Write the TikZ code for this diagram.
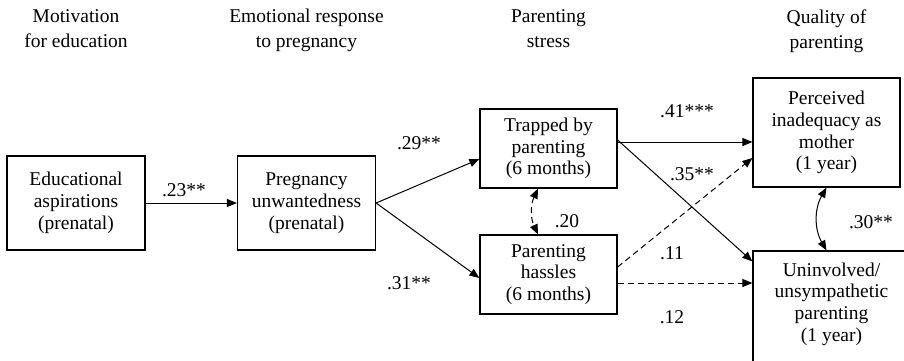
\documentclass[tikz,border=0pt]{standalone}
\usepackage{fontspec}
\setmainfont{LiberationSerif}[Extension=.ttf, UprightFont=*-Regular]
\usepackage{tikz}
\usetikzlibrary{arrows.meta}

\begin{document}
\begin{tikzpicture}[x=0.5pt,y=-0.5pt,
    box/.style={draw, line width=0.6pt, align=center, inner sep=0pt,
      font=\fontsize{9.75}{10.9}\selectfont},
    head/.style={align=center, anchor=north, inner sep=0pt,
      font=\fontsize{9.75}{12.5}\selectfont},
    coef/.style={inner sep=0pt, font=\fontsize{9.75}{11}\selectfont},
    link/.style={->, line width=0.5pt},
    >={Triangle[length=5pt,width=4pt]}]
        \clip (0,0) rectangle (904,360);

        % Column headings
        \node[head] (hedu) at (76,9) {Motivation\\for education};
        \node[head] (hpreg) at (306.5,9) {Emotional response\\to pregnancy};
        \node[head] (hstress) at (548.5,9) {Parenting\\stress};
        \node[head] (hqual) at (826.5,9) {Quality of\\parenting};

        % Variables
        \node[box, minimum width=69pt, minimum height=47pt] (edu) at (76,203) {Educational\\aspirations\\(prenatal)};
        \node[box, minimum width=69pt, minimum height=47pt] (preg) at (306.5,203) {Pregnancy\\unwantedness\\(prenatal)};
        \node[box, minimum width=68.5pt, minimum height=39.5pt] (trap) at (548.5,148.5) {Trapped by\\parenting\\(6 months)};
        \node[box, minimum width=68.5pt, minimum height=39.5pt] (hass) at (548.5,274.5) {Parenting\\hassles\\(6 months)};
        \node[box, minimum width=73.5pt, minimum height=54.5pt] (perc) at (826.5,132.5) {Perceived\\inadequacy as\\mother\\(1 year)};
        \node[box, minimum width=78.5pt, minimum height=57pt] (uninv) at (831.5,308) {Uninvolved/\\unsympathetic\\parenting\\(1 year)\\[-5pt]{}};

        % Paths
        \draw[link] (edu) -- (preg);
        \draw[link] (preg.east) -- ([yshift=-5.25pt]trap.west);
        \draw[link] (preg.east) -- ([yshift=-1.75pt]hass.west);
        \draw[link, <->, dashed, dash pattern=on 3pt off 2pt] ([xshift=-5.25pt]trap.south) to[bend right=25] ([xshift=-5.25pt]hass.north);
        \draw[link] ([yshift=3.25pt]trap.east) -- ([yshift=-4.75pt]perc.west);
        \draw[link] ([yshift=4.25pt]trap.east) -- ([yshift=-5.5pt]uninv.north west);
        \draw[link, dashed, dash pattern=on 3pt off 2pt] ([yshift=3.75pt]hass.east) -- ([yshift=-12.75pt]perc.west);
        \draw[link, dashed, dash pattern=on 3pt off 2pt] ([yshift=-4.25pt]hass.east) -- ([yshift=12.5pt]uninv.west);
        \draw[link, <->] (perc.south) to[bend right=30] (perc.south |- uninv.north);

        % Coefficients
        \node[coef] (c23) at (184,190) {.23**};
        \node[coef] (c29) at (419,143) {.29**};
        \node[coef] (c31) at (409,283) {.31**};
        \node[coef] (c20) at (567,221) {.20};
        \node[coef] (c41) at (687,111) {.41***};
        \node[coef] (c35) at (692,174) {.35**};
        \node[coef] (c11) at (672,253) {.11};
        \node[coef] (c12) at (672,317) {.12};
        \node[coef] (c30) at (871,222) {.30**};
    \end{tikzpicture}
\end{document}
